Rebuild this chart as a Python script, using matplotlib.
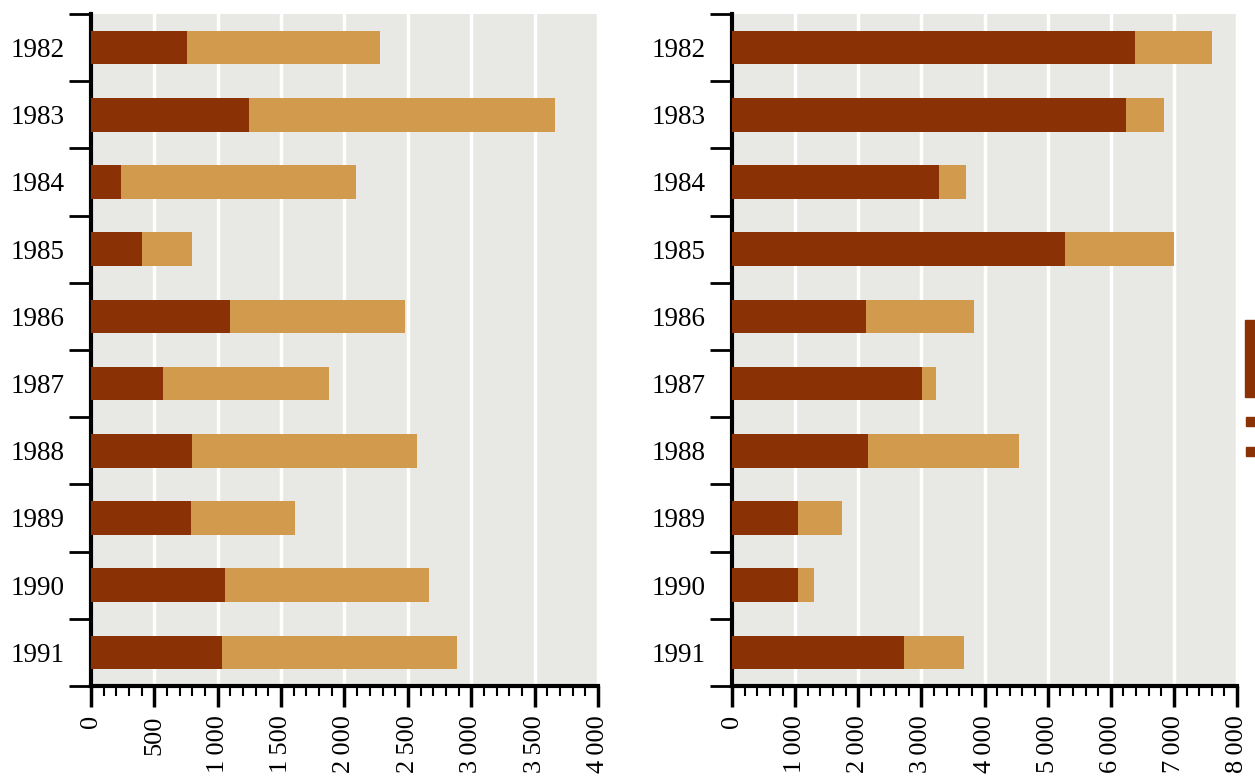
import numpy as np
import matplotlib
matplotlib.use("Agg")
import matplotlib.pyplot as plt
from matplotlib.ticker import MultipleLocator, FuncFormatter
from matplotlib.patches import Rectangle

years = ['1982', '1983', '1984', '1985', '1986', '1987', '1988', '1989', '1990', '1991']

# left panel: dark part and total length
left_dark = [760, 1250, 240, 400, 1100, 570, 800, 790, 1060, 1030]
left_total = [2280, 3660, 2090, 800, 2480, 1880, 2570, 1610, 2670, 2890]

# right panel
right_dark = [6390, 6240, 3280, 5280, 2120, 3010, 2160, 1050, 1050, 2730]
right_total = [7600, 6850, 3710, 7000, 3840, 3230, 4550, 1740, 1300, 3680]

dark_col = '#8a3105'
tan_col = '#d29a4d'
bg_col = '#e8e8e4'

plt.rcParams['font.family'] = ['Liberation Serif', 'DejaVu Serif']

fig = plt.figure(figsize=(12.55, 7.76), dpi=100)
ax1 = fig.add_axes([0.0725, 0.116, 0.404, 0.866])
ax2 = fig.add_axes([0.5833, 0.116, 0.4024, 0.866])


def fmt(v, pos):
    v = int(round(v))
    if v >= 1000:
        return '%d\u2009%03d' % (v // 1000, v % 1000)
    return str(v)


def draw_panel(ax, dark, total, xmax, major):
    y = np.arange(len(years))
    light = [t - d for t, d in zip(total, dark)]
    ax.set_facecolor(bg_col)
    ax.barh(y, dark, height=0.5, color=dark_col, zorder=3)
    ax.barh(y, light, left=dark, height=0.5, color=tan_col, zorder=3)
    ax.set_xlim(0, xmax)
    ax.set_ylim(len(years) - 0.5, -0.5)
    ax.xaxis.set_major_locator(MultipleLocator(major))
    ax.xaxis.set_minor_locator(MultipleLocator(major / 5))
    ax.xaxis.set_major_formatter(FuncFormatter(fmt))
    ax.grid(axis='x', which='major', color='white', linewidth=2.5, zorder=1)
    ax.set_axisbelow(True)
    # y ticks sit between the bars, labels centred on the bars
    ax.set_yticks(np.arange(-0.5, len(years), 1))
    ax.set_yticklabels([])
    ax.set_yticks(y, minor=True)
    ax.set_yticklabels(years, minor=True, fontsize=19.5)
    ax.tick_params(axis='y', which='major', length=16, width=2, direction='out')
    ax.tick_params(axis='y', which='minor', length=0, pad=19)
    ax.tick_params(axis='x', which='major', length=15, width=2.5, labelsize=19,
                   labelrotation=90, pad=6)
    ax.tick_params(axis='x', which='minor', length=7, width=1.5)
    for s in ['top', 'right']:
        ax.spines[s].set_visible(False)
    for s in ['left', 'bottom']:
        ax.spines[s].set_linewidth(3)


draw_panel(ax1, left_dark, left_total, 4000, 500)
draw_panel(ax2, right_dark, right_total, 8000, 1000)

# cut-off mark at the right edge of the page
fig.patches.append(Rectangle((1245 / 1255, 1 - 397 / 776), 10 / 1255, 77 / 776,
                             transform=fig.transFigure, color=dark_col))
fig.patches.append(Rectangle((1246 / 1255, 1 - 426 / 776), 9 / 1255, 9 / 776,
                             transform=fig.transFigure, color=dark_col))
fig.patches.append(Rectangle((1246 / 1255, 1 - 456 / 776), 9 / 1255, 9 / 776,
                             transform=fig.transFigure, color=dark_col))

fig.savefig('out.png', dpi=100)
